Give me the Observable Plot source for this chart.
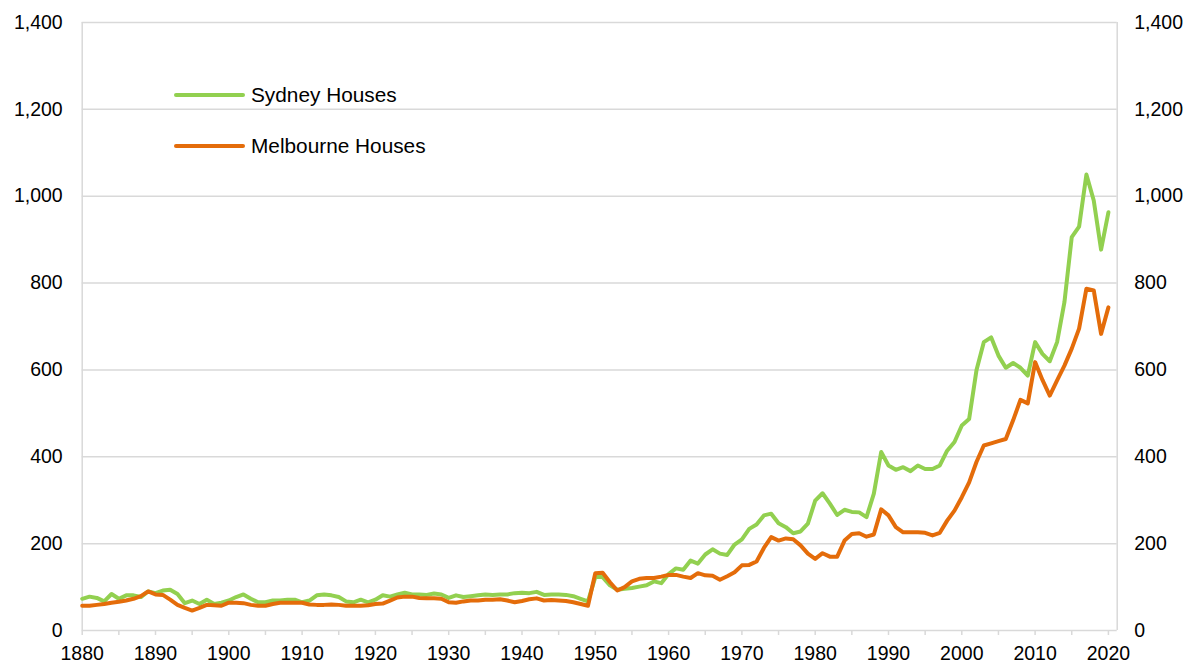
<!DOCTYPE html>
<html>
<head>
<meta charset="utf-8">
<script src="https://cdn.jsdelivr.net/npm/d3@7"></script>
<script src="https://cdn.jsdelivr.net/npm/@observablehq/plot@0.6"></script>
<style>
  html, body { margin: 0; padding: 0; background: #fff; }
  #wrap { position: relative; width: 1198px; height: 664px; font-family: "Liberation Sans", Arial, sans-serif; }
  .leg { position: absolute; left: 174px; height: 24px; display: flex; align-items: center; font-size: 20.8px; color: #000; white-space: nowrap; }
  .leg .sw { display: inline-block; width: 71px; height: 4px; border-radius: 2px; margin-right: 6px; }
</style>
</head>
<body>
<div id="wrap"></div>
<script>
// ---- data ----
const firstYear = 1880;
const lastYear = 2020;
const sydney = [
  73, 78, 75, 67, 84, 73, 81, 81, 77, 90,
  86, 92, 94, 84, 63, 69, 61, 71, 61, 64,
  69, 77, 83, 73, 65, 65, 69, 69, 71, 71,
  65, 69, 81, 83, 81, 77, 67, 65, 71, 65,
  71, 81, 78, 83, 87, 83, 83, 82, 85, 83,
  75, 81, 77, 79, 81, 83, 82, 83, 83, 86,
  87, 86, 89, 82, 83, 83, 82, 79, 73, 67,
  123, 123, 104, 94, 96, 98, 101, 104, 113, 109,
  130, 143, 140, 161, 154, 175, 187, 177, 174, 198,
  210, 234, 244, 265, 269, 247, 238, 224, 228, 246,
  299, 316, 292, 266, 278, 273, 272, 261, 315, 411,
  380, 370, 376, 367, 380, 372, 372, 380, 414, 434,
  472, 487, 599, 664, 675, 633, 605, 616, 605, 587,
  664, 637, 620, 664, 756, 906, 930, 1050, 990, 877, 963
];
const melbourne = [
  57, 57, 59, 61, 64, 66, 69, 73, 79, 90,
  83, 82, 71, 59, 52, 46, 52, 59, 58, 57,
  64, 64, 63, 59, 57, 57, 61, 64, 64, 64,
  64, 60, 59, 59, 60, 59, 57, 57, 57, 58,
  61, 62, 69, 76, 78, 78, 75, 74, 74, 73,
  65, 64, 67, 69, 69, 71, 71, 72, 69, 65,
  68, 72, 74, 69, 70, 69, 68, 65, 61, 57,
  132, 133, 111, 92, 100, 113, 119, 121, 121, 124,
  128, 128, 124, 121, 132, 127, 126, 117, 125, 134,
  150, 151, 159, 190, 215, 207, 212, 210, 196, 177,
  165, 178, 170, 170, 207, 222, 224, 216, 221, 279,
  265, 238, 226, 226, 226, 225, 219, 225, 253, 276,
  307, 341, 388, 426, 431, 436, 441, 484, 531, 523,
  618, 577, 541, 576, 610, 649, 695, 787, 783, 683, 744
];
const seriesNames = ["Sydney Houses", "Melbourne Houses"];
const seriesColors = ["#92D050", "#E46C0A"];
const yTicks = [0, 200, 400, 600, 800, 1000, 1200, 1400];
const xLabelTicks = [1880, 1890, 1900, 1910, 1920, 1930, 1940, 1950, 1960, 1970, 1980, 1990, 2000, 2010, 2020];
const xMinorTicks = [1880, 1885, 1890, 1895, 1900, 1905, 1910, 1915, 1920, 1925, 1930, 1935, 1940, 1945, 1950, 1955, 1960, 1965, 1970, 1975, 1980, 1985, 1990, 1995, 2000, 2005, 2010, 2015, 2020];

// ---- build table ----
const years = d3.range(firstYear, lastYear + 1);
const rows = [];
years.forEach((yr, i) => {
  rows.push({year: yr, value: sydney[i], series: seriesNames[0]});
});
years.forEach((yr, i) => {
  rows.push({year: yr, value: melbourne[i], series: seriesNames[1]});
});

const xMax = 2021.2;
const gridColor = "#d9d9d9";
const fmt = d3.format(",");

const chart = Plot.plot({
  width: 1198,
  height: 664,
  marginLeft: 81.7,
  marginRight: 81.3,
  marginTop: 22,
  marginBottom: 34,
  style: {fontFamily: '"Liberation Sans", Arial, sans-serif', fontSize: "19.5px", color: "#000", background: "#fff", overflow: "visible"},
  x: {domain: [firstYear, xMax], axis: null, label: null},
  y: {domain: [0, 1400], axis: null, label: null},
  color: {domain: seriesNames, range: seriesColors},
  marks: [
    Plot.ruleY(yTicks, {stroke: gridColor, strokeWidth: 1.5}),
    Plot.ruleX([firstYear, xMax], {stroke: gridColor, strokeWidth: 1.5}),
    Plot.axisX({ticks: xMinorTicks, tickFormat: () => "", tickSize: 5, stroke: gridColor, strokeWidth: 1.5, strokeOpacity: 1, label: null}),
    Plot.axisX({ticks: xLabelTicks, tickSize: 0, tickPadding: 16, tickFormat: d => String(d), fill: "#000", label: null}),
    Plot.axisY({anchor: "left", ticks: yTicks, tickSize: 0, tickPadding: 19.5, tickFormat: fmt, fill: "#000", label: null}),
    Plot.axisY({anchor: "right", ticks: yTicks, tickSize: 0, tickPadding: 17, tickFormat: fmt, fill: "#000", label: null}),
    Plot.line(rows, {x: "year", y: "value", z: "series", stroke: "series", strokeWidth: 4, strokeLinejoin: "round", strokeLinecap: "round"})
  ]
});

const wrap = document.getElementById("wrap");
wrap.appendChild(chart);

// legend overlay (inside plot area, top-left)
const legendTops = [83, 133.5];
seriesNames.forEach((name, i) => {
  const d = document.createElement("div");
  d.className = "leg";
  d.style.top = legendTops[i] + "px";
  const sw = document.createElement("span");
  sw.className = "sw";
  sw.style.background = seriesColors[i];
  const t = document.createElement("span");
  t.textContent = name;
  d.appendChild(sw);
  d.appendChild(t);
  wrap.appendChild(d);
});
</script>
</body>
</html>
